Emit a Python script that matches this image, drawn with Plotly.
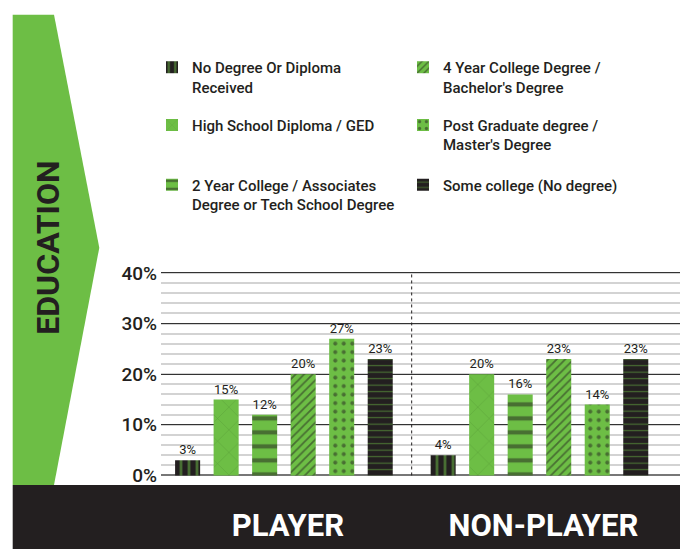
import plotly.graph_objects as go

W, H = 689, 559
GREEN = "#6dbe45"
BLACK = "#231f20"

groups = ["PLAYER", "NON-PLAYER"]
series = [
    "No Degree Or Diploma<br>Received",
    "High School Diploma / GED",
    "2 Year College / Associates<br>Degree or Tech School Degree",
    "4 Year College Degree /<br>Bachelor's Degree",
    "Post Graduate degree /<br>Master's Degree",
    "Some college (No degree)",
]
player = [3, 15, 12, 20, 27, 23]
non_player = [4, 20, 16, 23, 14, 23]
y_ticks = [0, 10, 20, 30, 40]
y_tick_text = ["0%", "10%", "20%", "30%", "40%"]

# styling per series (pattern fills)
styles = [
    dict(color=BLACK, pattern=dict(shape="|", fgcolor=GREEN, bgcolor=BLACK, size=8, solidity=0.35)),
    dict(color=GREEN, pattern=dict(shape="x", fgcolor="#47862c", bgcolor=GREEN, size=16, solidity=0.06)),
    dict(color=GREEN, pattern=dict(shape="-", fgcolor=BLACK, bgcolor=GREEN, size=14, solidity=0.3)),
    dict(color=GREEN, pattern=dict(shape="/", fgcolor=BLACK, bgcolor=GREEN, size=6, solidity=0.3)),
    dict(color=GREEN, pattern=dict(shape=".", fgcolor=BLACK, bgcolor=GREEN, size=8.5, solidity=0.18)),
    dict(color=BLACK, pattern=dict(shape="-", fgcolor=GREEN, bgcolor=BLACK, size=6.5, solidity=0.18)),
]
legend_ids = ["legend", "legend2", "legend3", "legend", "legend2", "legend3"]


def px(x):
    return x / W


def py(y):
    return 1 - y / H


fig = go.Figure()
for i, name in enumerate(series):
    vals = [player[i], non_player[i]]
    fig.add_trace(go.Bar(
        x=groups, y=vals, name=name,
        text=[f"{v}%" for v in vals], texttemplate="%{text}",
        marker=dict(color=styles[i]["color"], pattern=styles[i]["pattern"], line=dict(width=0)),
        textposition="outside", cliponaxis=False,
        constraintext="none",
        textfont=dict(family="Roboto", size=13, color=BLACK),
        legend=legend_ids[i],
        hoverinfo="skip",
    ))

font_leg = dict(family="Roboto", size=15, color=BLACK, weight=500)
leg_common = dict(orientation="h", xanchor="left", yanchor="top", x=px(152),
                  entrywidth=206, entrywidthmode="pixels", font=font_leg,
                  bgcolor="rgba(0,0,0,0)", valign="top", traceorder="normal")

shapes = [
    # green arrow banner
    dict(type="path", xref="paper", yref="paper", layer="below",
         path=f"M{px(12.7)},{py(5)} L{px(54)},{py(5)} L{px(99.3)},{py(246.5)} "
              f"L{px(54)},{py(492.5)} L{px(12.7)},{py(492.5)} Z",
         fillcolor=GREEN, line=dict(width=0)),
    # black banner
    dict(type="rect", xref="paper", yref="paper", layer="below",
         x0=px(12.7), x1=px(680), y0=py(559), y1=py(492.5),
         fillcolor=BLACK, line=dict(width=0)),
    # dashed divider
    dict(type="line", xref="x", yref="y", x0=0.5, x1=0.5, y0=0, y1=40,
         line=dict(color=BLACK, width=1, dash="3px,3px"), layer="above"),
]

fig.update_layout(
    width=W, height=H,
    margin=dict(l=0, r=0, t=0, b=0),
    paper_bgcolor="white", plot_bgcolor="white",
    barmode="group", bargap=0.0955, bargroupgap=0.35,
    showlegend=True,
    legend=dict(leg_common, y=py(42.5)),
    legend2=dict(leg_common, y=py(102.5)),
    legend3=dict(leg_common, y=py(164.5)),
    xaxis=dict(type="category", categoryorder="array", categoryarray=groups,
               domain=[px(161), px(680)], range=[-0.481, 1.550],
               showgrid=False, showline=False, zeroline=False, ticks="",
               tickfont=dict(family="Roboto", size=31, color="white", weight=700),
               ticklabelstandoff=27, ticklabelshift=4),
    yaxis=dict(domain=[py(484.3), py(271.1)], range=[-0.3, 40.3],
               tickvals=y_ticks, ticktext=y_tick_text, ticks="",
               tickfont=dict(family="Roboto", size=19, color=BLACK, weight=500),
               showgrid=True, gridcolor="#333333", gridwidth=1.2,
               minor=dict(dtick=2, tick0=0, showgrid=True, gridcolor="#d3d3d3", gridwidth=2),
               zeroline=True, zerolinecolor="#777777", zerolinewidth=2,
               showline=False, ticklabelstandoff=3),
    shapes=shapes,
    annotations=[dict(text="EDUCATION", xref="paper", yref="paper", x=px(48), y=py(246.5),
                      xanchor="center", yanchor="middle",
                      textangle=-90, showarrow=False,
                      font=dict(family="Roboto", size=32, color=BLACK, weight=700))],
)

fig.write_html("out.html")
